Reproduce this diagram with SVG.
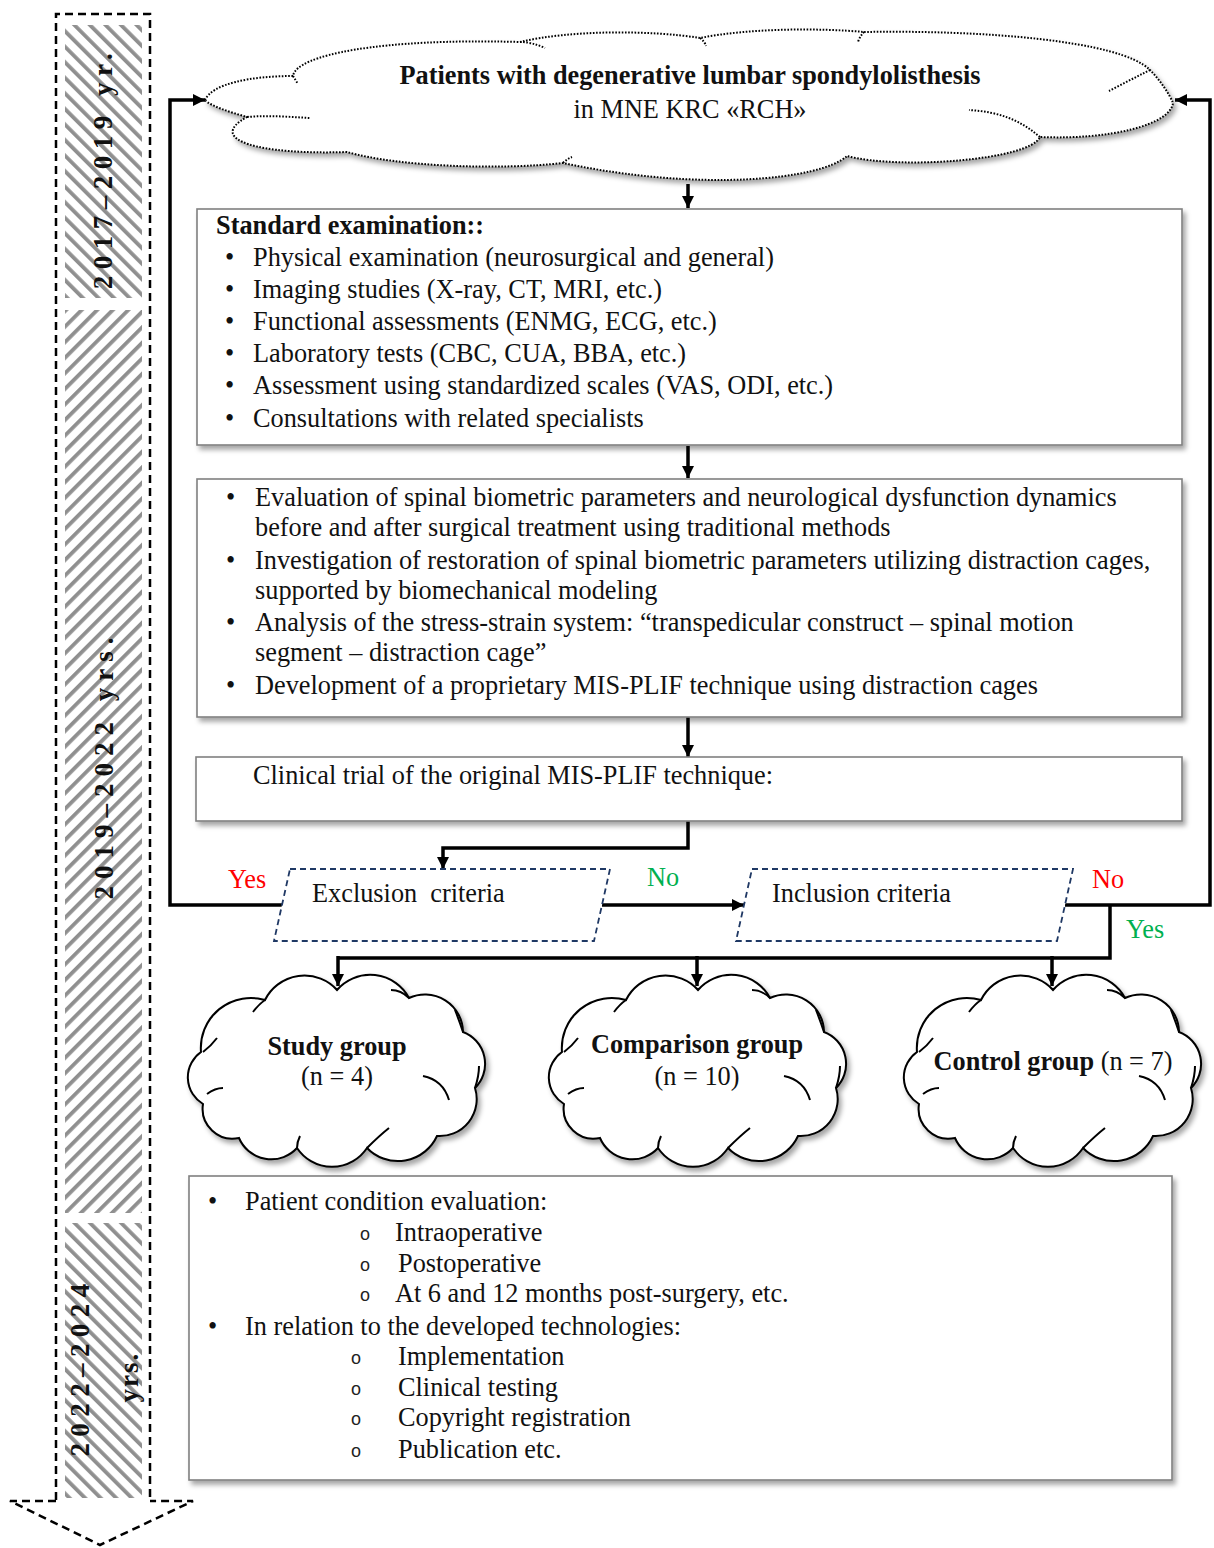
<svg xmlns="http://www.w3.org/2000/svg" width="1214" height="1548" viewBox="0 0 1214 1548">
<style>
.t{font-family:"Liberation Serif","Times New Roman",serif;font-size:26.3px;fill:#111}
.b{font-weight:bold}
.yr{font-family:"Liberation Serif","Times New Roman",serif;font-size:27px;font-weight:bold;fill:#111}
.box{fill:#fff;stroke:#808080;stroke-width:1.6}
.conn{fill:none;stroke:#000;stroke-width:3.5}
.par{fill:#fff;stroke:#1f3864;stroke-width:1.8;stroke-dasharray:6 4}
.cloud{fill:#fff;stroke:#000;stroke-width:2}
.curl{fill:none;stroke:#000;stroke-width:2}
.dot{fill:#fff;stroke:#000;stroke-width:2;stroke-dasharray:1.6 1.6}
.dotc{fill:none;stroke:#000;stroke-width:2;stroke-dasharray:1.6 1.6}
.dash{fill:none;stroke:#000;stroke-width:2.5;stroke-dasharray:8 5}
.red{fill:#ff0000}
.grn{fill:#00b050}
.ob{font-family:"Liberation Sans",Arial,sans-serif;font-size:18px;fill:#222}
</style>
<defs>
<pattern id="hb" width="11" height="11" patternUnits="userSpaceOnUse" patternTransform="rotate(-45)">
<rect x="0" y="0" width="3.8" height="11" fill="#8f8f8f"/>
</pattern>
<pattern id="hf" width="11" height="11" patternUnits="userSpaceOnUse" patternTransform="rotate(45)">
<rect x="0" y="0" width="3.8" height="11" fill="#8f8f8f"/>
</pattern>
<filter id="sh" x="-10%" y="-10%" width="130%" height="130%">
<feDropShadow dx="3" dy="4" stdDeviation="2.5" flood-color="#000" flood-opacity="0.35"/>
</filter>
<marker id="ah" viewBox="0 0 10 10" refX="10" refY="5" markerWidth="12" markerHeight="12" markerUnits="userSpaceOnUse" orient="auto">
<path d="M0,0 L10,5 L0,10 z" fill="#000"/>
</marker>
<path id="cl" d="M16,128 A31,31 0 0 1 14,76 A50,50 0 0 1 78,24 A44,44 0 0 1 150,14 A44,44 0 0 1 222,22 A38,38 0 0 1 276,56 A34,34 0 0 1 288,112 A37,37 0 0 1 250,160 A43,43 0 0 1 180,172 A42,42 0 0 1 110,172 A35,35 0 0 1 52,162 A30,30 0 0 1 16,128 Z"/>
<path id="cc" d="M20,118 Q28,112 36,112 M16,76 Q24,70 30,62 M78,24 Q72,28 66,36 M222,22 Q214,14 204,14 M276,56 Q272,44 268,34 M288,112 Q292,100 292,90 M236,100 Q256,104 262,124 M180,172 Q192,160 202,152 M110,172 Q110,166 113,160"/>
</defs>

<!-- timeline -->
<g id="timeline">
<rect x="65" y="25" width="77" height="273" fill="url(#hb)"/>
<rect x="65" y="310" width="77" height="903" fill="url(#hf)"/>
<rect x="65" y="1223" width="77" height="275" fill="url(#hb)"/>
<path class="dash" d="M56,1500 L56,14 L150,14 L150,1500"/>
<path class="dash" d="M56,1501 L10,1501 L100,1545 L193,1501 L150,1501"/>
<text class="yr" transform="translate(103,168) rotate(-90)" text-anchor="middle" dominant-baseline="central" letter-spacing="6.5">2017–2019 yr.</text>
<text class="yr" transform="translate(104,765) rotate(-90)" text-anchor="middle" dominant-baseline="central" letter-spacing="7">2019–2022 yrs.</text>
<text class="yr" transform="translate(80,1367) rotate(-90)" text-anchor="middle" dominant-baseline="central" letter-spacing="6.4">2022–2024</text>
<text class="yr" transform="translate(129,1377) rotate(-90)" text-anchor="middle" dominant-baseline="central" letter-spacing="2">yrs.</text>
</g>

<!-- connectors -->
<g id="connectors">
<polyline class="conn" points="282,905 170,905 170,100 205,100" marker-end="url(#ah)"/>
<polyline class="conn" points="1065,905 1210,905 1210,100 1175,100" marker-end="url(#ah)"/>
<line class="conn" x1="688" y1="184" x2="688" y2="208" marker-end="url(#ah)"/>
<line class="conn" x1="688" y1="446" x2="688" y2="478" marker-end="url(#ah)"/>
<line class="conn" x1="688" y1="717" x2="688" y2="757" marker-end="url(#ah)"/>
<polyline class="conn" points="688,821 688,848 443,848 443,869" marker-end="url(#ah)"/>
<line class="conn" x1="602" y1="905" x2="744" y2="905" marker-end="url(#ah)"/>
<polyline class="conn" points="1110,905 1110,958 338,958"/>
<line class="conn" x1="338" y1="956" x2="338" y2="986" marker-end="url(#ah)"/>
<line class="conn" x1="697" y1="956" x2="697" y2="986" marker-end="url(#ah)"/>
<line class="conn" x1="1052" y1="956" x2="1052" y2="986" marker-end="url(#ah)"/>
<text class="t red" x="228" y="888">Yes</text>
<text class="t grn" x="647" y="886">No</text>
<text class="t red" x="1092" y="888">No</text>
<text class="t grn" x="1126" y="938">Yes</text>
</g>

<!-- top cloud -->
<g id="patients">
<path class="dot" filter="url(#sh)" d="M205,100 C212,84 250,76 293,76 C296,55 380,38 520,42 C570,30 650,30 700,38 C750,28 820,28 864,32 C980,30 1120,40 1150,70 C1160,80 1170,95 1173,103 C1170,125 1110,140 1040,137 C1030,160 900,170 847,156 C820,180 700,192 563,163 C500,170 400,167 347,152 C260,155 205,140 247,117 C230,112 210,106 205,100 Z"/>
<path class="dotc" d="M247,117 C270,115 290,117 310,118 M293,76 L298,84 M520,42 Q532,42 545,48 M700,38 Q705,42 706,46 M864,32 Q860,36 858,42 M1150,70 Q1130,80 1109,91 M1040,137 C1020,120 1000,112 969,110 M563,163 Q567,159 572,157"/>
<text class="t b" x="690" y="84" text-anchor="middle">Patients with degenerative lumbar spondylolisthesis</text>
<text class="t" x="690" y="118" text-anchor="middle">in MNE KRC «RCH»</text>
</g>

<!-- box 1 -->
<g id="standard">
<rect class="box" filter="url(#sh)" x="197" y="209" width="985" height="236"/>
<text class="t b" x="216" y="234">Standard examination::</text>
<g class="t">
<text x="225" y="266">•</text><text x="253" y="266">Physical examination (neurosurgical and general)</text>
<text x="225" y="298">•</text><text x="253" y="298">Imaging studies (X-ray, CT, MRI, etc.)</text>
<text x="225" y="330">•</text><text x="253" y="330">Functional assessments (ENMG, ECG, etc.)</text>
<text x="225" y="362">•</text><text x="253" y="362">Laboratory tests (CBC, CUA, BBA, etc.)</text>
<text x="225" y="394">•</text><text x="253" y="394">Assessment using standardized scales (VAS, ODI, etc.)</text>
<text x="225" y="427">•</text><text x="253" y="427">Consultations with related specialists</text>
</g>
</g>

<!-- box 2 -->
<g id="research">
<rect class="box" filter="url(#sh)" x="197" y="479" width="985" height="238"/>
<g class="t">
<text x="226" y="506">•</text><text x="255" y="506">Evaluation of spinal biometric parameters and neurological dysfunction dynamics</text>
<text x="255" y="536">before and after surgical treatment using traditional methods</text>
<text x="226" y="569">•</text><text x="255" y="569">Investigation of restoration of spinal biometric parameters utilizing distraction cages,</text>
<text x="255" y="599">supported by biomechanical modeling</text>
<text x="226" y="631">•</text><text x="255" y="631">Analysis of the stress-strain system: “transpedicular construct – spinal motion</text>
<text x="255" y="661">segment – distraction cage”</text>
<text x="226" y="694">•</text><text x="255" y="694">Development of a proprietary MIS-PLIF technique using distraction cages</text>
</g>
</g>

<!-- box 3 -->
<g id="trial">
<rect class="box" filter="url(#sh)" x="196" y="757" width="986" height="64"/>
<text class="t" x="253" y="784">Clinical trial of the original MIS-PLIF technique:</text>
</g>

<!-- decisions -->
<g id="exclusion">
<polygon class="par" points="290,869 610,869 594,941 274,941"/>
<text class="t" x="312" y="902" xml:space="preserve">Exclusion  criteria</text>
</g>
<g id="inclusion">
<polygon class="par" points="752,869 1073,869 1057,941 736,941"/>
<text class="t" x="772" y="902">Inclusion criteria</text>
</g>

<!-- groups -->
<g id="study">
<use href="#cl" class="cloud" filter="url(#sh)" transform="translate(187,976)"/>
<use href="#cc" class="curl" transform="translate(187,976)"/>
<text class="t b" x="337" y="1055" text-anchor="middle">Study group</text>
<text class="t" x="337" y="1085" text-anchor="middle">(n = 4)</text>
</g>
<g id="comparison">
<use href="#cl" class="cloud" filter="url(#sh)" transform="translate(548,976)"/>
<use href="#cc" class="curl" transform="translate(548,976)"/>
<text class="t b" x="697" y="1053" text-anchor="middle">Comparison group</text>
<text class="t" x="697" y="1085" text-anchor="middle">(n = 10)</text>
</g>
<g id="control">
<use href="#cl" class="cloud" filter="url(#sh)" transform="translate(903,976)"/>
<use href="#cc" class="curl" transform="translate(903,976)"/>
<text class="t" x="1053" y="1070" text-anchor="middle"><tspan font-weight="bold">Control group</tspan> (n = 7)</text>
</g>

<!-- box 4 -->
<g id="evaluation">
<rect class="box" filter="url(#sh)" x="189" y="1176" width="983" height="304"/>
<g class="t">
<text x="208" y="1210">•</text><text x="245" y="1210">Patient condition evaluation:</text>
<text x="208" y="1335">•</text><text x="245" y="1335">In relation to the developed technologies:</text>
<text x="395" y="1241">Intraoperative</text>
<text x="398" y="1272">Postoperative</text>
<text x="395" y="1302">At 6 and 12 months post-surgery, etc.</text>
<text x="398" y="1365">Implementation</text>
<text x="398" y="1396">Clinical testing</text>
<text x="398" y="1426">Copyright registration</text>
<text x="398" y="1458">Publication etc.</text>
</g>
<g class="ob">
<text x="360" y="1240">o</text>
<text x="360" y="1271">o</text>
<text x="360" y="1301">o</text>
<text x="351" y="1364">o</text>
<text x="351" y="1395">o</text>
<text x="351" y="1425">o</text>
<text x="351" y="1457">o</text>
</g>
</g>
</svg>
